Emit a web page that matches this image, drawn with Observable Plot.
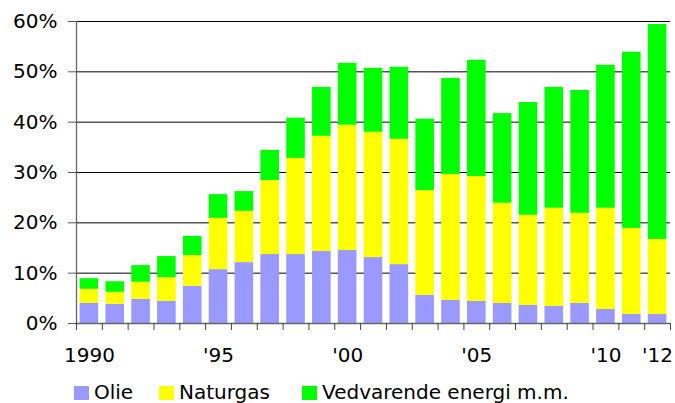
<!DOCTYPE html>
<html>
<head>
<meta charset="utf-8">
<script src="https://cdn.jsdelivr.net/npm/d3@7"></script>
<script src="https://cdn.jsdelivr.net/npm/@observablehq/plot@0.6"></script>
<style>
  html, body { margin: 0; padding: 0; background: #fff; }
  body { width: 675px; height: 403px; overflow: hidden; font-family: "DejaVu Sans", Verdana, sans-serif; }
  #legend { position: relative; height: 18px; font-size: 20px; line-height: 18px; color: #000; }
  #legend .item { position: absolute; top: 0; white-space: nowrap; }
  #legend .sw { position: absolute; top: 3px; width: 15px; height: 14px; }
  #legend .lb { position: absolute; left: 20px; top: 0; }
</style>
</head>
<body>
<div id="chart"></div>
<div id="legend"></div>
<script>
const years = [1990,1991,1992,1993,1994,1995,1996,1997,1998,1999,2000,2001,2002,2003,2004,2005,2006,2007,2008,2009,2010,2011,2012];
const olie = [4.0,3.8,4.8,4.4,7.4,10.7,12.1,13.7,13.7,14.3,14.5,13.1,11.7,5.6,4.6,4.4,4.0,3.6,3.4,4.0,2.8,1.8,1.8];
const naturgas = [2.8,2.4,3.4,4.7,6.1,10.2,10.2,14.7,19.1,22.9,24.9,24.9,24.9,20.8,25.0,24.8,19.9,17.9,19.5,17.9,20.1,17.1,14.9];
const vedvarende = [2.1,2.1,3.3,4.2,3.8,4.7,3.9,6.0,8.0,9.7,12.3,12.7,14.3,14.2,19.1,23.1,17.8,22.4,24.0,24.4,28.4,35.0,42.7];
const seriesNames = ["Olie", "Naturgas", "Vedvarende energi m.m."];
const seriesColors = ["#9999FF", "#FFFF00", "#00FF00"];
const yTicks = [0,10,20,30,40,50,60];
const xTickYears = [1990,1995,2000,2005,2010,2012];
const xTickLabels = ["1990","'95","'00","'05","'10","'12"];

const seriesValues = [olie, naturgas, vedvarende];
const rows = [];
years.forEach((year, i) => {
  let base = 0;
  seriesValues.forEach((vals, s) => {
    rows.push({year, series: seriesNames[s], y1: base, y2: base + vals[i]});
    base += vals[i];
  });
});
const xDomain = [years[0] - 0.5, years[years.length - 1] + 0.5];
const boundaries = [...years.map(y => y - 0.5), years[years.length - 1] + 0.5];
const labelOf = new Map(xTickYears.map((y, i) => [y, xTickLabels[i]]));

const chart = Plot.plot({
  width: 675,
  height: 383,
  marginLeft: 76,
  marginRight: 5,
  marginTop: 21,
  marginBottom: 60,
  style: {fontFamily: "DejaVu Sans, Verdana, sans-serif", fontSize: "20px", color: "#000", background: "#fff", overflow: "visible"},
  x: {domain: xDomain, axis: null},
  y: {domain: [0, 60], axis: null},
  color: {domain: seriesNames, range: seriesColors},
  marks: [
    Plot.ruleY(yTicks.filter(t => t > 0), {stroke: "#000", strokeWidth: 1}),
    Plot.rect(rows, {x1: d => d.year - 0.36, x2: d => d.year + 0.36, y1: "y1", y2: "y2", fill: "series"}),
    Plot.ruleX([xDomain[0]], {stroke: "#666", strokeWidth: 1.3}),
    Plot.ruleY([0], {stroke: "#666", strokeWidth: 1.3}),
    Plot.axisY({ticks: yTicks, tickFormat: d => d + "%", tickSize: 8, tickPadding: 11, stroke: "#555", fontSize: 20, fill: "#000"}),
    Plot.axisX({ticks: boundaries, tickFormat: () => "", tickSize: 7, stroke: "#444"}),
    Plot.axisX({ticks: xTickYears, tickFormat: d => labelOf.get(d), tickSize: 0, tickPadding: 24, fontSize: 20, fill: "#000"})
  ]
});
document.getElementById("chart").appendChild(chart);

const legendLefts = [74, 159, 302];
const legend = document.getElementById("legend");
seriesNames.forEach((name, i) => {
  const item = document.createElement("div");
  item.className = "item";
  item.style.left = legendLefts[i] + "px";
  const sw = document.createElement("span");
  sw.className = "sw";
  sw.style.background = seriesColors[i];
  const lb = document.createElement("span");
  lb.className = "lb";
  lb.textContent = name;
  item.appendChild(sw);
  item.appendChild(lb);
  legend.appendChild(item);
});
</script>
</body>
</html>
